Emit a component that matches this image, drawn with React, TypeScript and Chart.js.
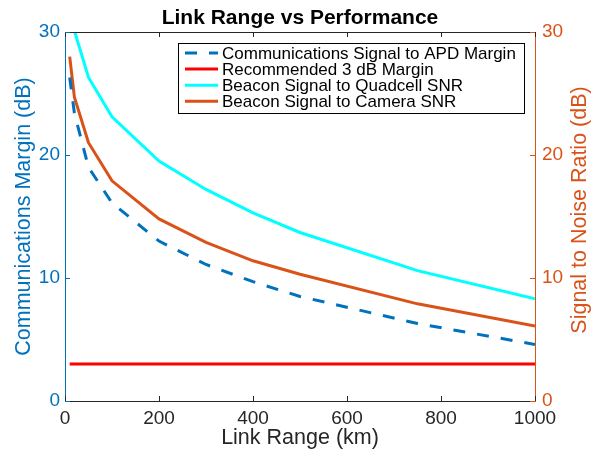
import React, { useEffect, useRef } from "react";
import { Chart, registerables } from "chart.js";

Chart.register(...registerables);

// ---- data ----
const rangeKm = [10, 20, 50, 100, 200, 300, 400, 500, 750, 1000];
const commToApdMargin = [26.3, 23.4, 19.0, 16.1, 13.0, 11.1, 9.7, 8.5, 6.3, 4.6];
const recommendedMargin = [3, 3, 3, 3, 3, 3, 3, 3, 3, 3];
const quadcellSnr = [33.5, 30.1, 26.3, 23.1, 19.5, 17.2, 15.3, 13.7, 10.6, 8.3];
const cameraSnr = [28.0, 24.7, 21.0, 17.9, 14.8, 12.9, 11.4, 10.3, 7.9, 6.1];

const xTicks = [0, 200, 400, 600, 800, 1000];
const yTicks = [0, 10, 20, 30];

const seriesLabels = [
  "Communications Signal to APD Margin",
  "Recommended 3 dB Margin",
  "Beacon Signal to Quadcell SNR",
  "Beacon Signal to Camera SNR",
];
const chartTitle = "Link Range vs Performance";
const xTitle = "Link Range (km)";
const yLeftTitle = "Communications Margin (dB)";
const yRightTitle = "Signal to Noise Ratio (dB)";

const FONT = "'Liberation Sans', Arial, Helvetica, sans-serif";
const BLUE = "#0072BD";
const ORANGE = "#D95319";
const DARK = "#262626";

const toPoints = (ys: number[]) => rangeKm.map((x, i) => ({ x, y: ys[i] }));

const decorPlugin = {
  id: "decor",
  afterDatasetsDraw(chart: any) {
    const { ctx, chartArea, scales } = chart;
    const { left, right, top, bottom } = chartArea;
    ctx.save();
    // top border
    ctx.lineWidth = 1;
    ctx.strokeStyle = DARK;
    ctx.beginPath();
    ctx.moveTo(left, Math.round(top) + 0.5);
    ctx.lineTo(right, Math.round(top) + 0.5);
    ctx.stroke();
    // x ticks (inward, bottom and top)
    const tl = 5;
    for (const v of xTicks) {
      const px = Math.round(scales.x.getPixelForValue(v)) + 0.5;
      ctx.beginPath();
      ctx.moveTo(px, bottom);
      ctx.lineTo(px, bottom - tl);
      ctx.moveTo(px, top);
      ctx.lineTo(px, top + tl);
      ctx.stroke();
    }
    // left y ticks
    ctx.strokeStyle = BLUE;
    for (const v of yTicks) {
      const py = Math.round(scales.y.getPixelForValue(v)) + 0.5;
      ctx.beginPath();
      ctx.moveTo(left, py);
      ctx.lineTo(left + tl, py);
      ctx.stroke();
    }
    // right y ticks
    ctx.strokeStyle = ORANGE;
    for (const v of yTicks) {
      const py = Math.round(scales.y2.getPixelForValue(v)) + 0.5;
      ctx.beginPath();
      ctx.moveTo(right, py);
      ctx.lineTo(right - tl, py);
      ctx.stroke();
    }

    // legend
    const bx = 178.5, by = 43.5, bw = 346, bh = 70;
    ctx.fillStyle = "#ffffff";
    ctx.fillRect(bx, by, bw, bh);
    ctx.strokeStyle = "#000000";
    ctx.lineWidth = 1;
    ctx.setLineDash([]);
    ctx.strokeRect(bx, by, bw, bh);
    ctx.font = `17px ${FONT}`;
    ctx.textBaseline = "alphabetic";
    ctx.textAlign = "left";
    chart.data.datasets.forEach((ds: any, i: number) => {
      const ly = 53 + 16.1 * i;
      ctx.save();
      ctx.strokeStyle = ds.borderColor;
      ctx.lineWidth = ds.borderWidth;
      ctx.setLineDash(ds.borderDash || []);
      ctx.beginPath();
      ctx.moveTo(185, ly);
      ctx.lineTo(218, ly);
      ctx.stroke();
      ctx.restore();
      ctx.fillStyle = "#000000";
      ctx.fillText(ds.label, 222, 59 + 16.1 * i);
    });

    // right axis title (reads bottom-to-top)
    ctx.save();
    ctx.font = `21.5px ${FONT}`;
    ctx.fillStyle = ORANGE;
    ctx.textAlign = "center";
    ctx.textBaseline = "alphabetic";
    ctx.translate(586, 210);
    ctx.rotate(-Math.PI / 2);
    ctx.fillText(yRightTitle, 0, 0);
    ctx.restore();

    // title
    ctx.font = `bold 21px ${FONT}`;
    ctx.fillStyle = "#000000";
    ctx.textAlign = "center";
    ctx.textBaseline = "alphabetic";
    ctx.fillText(chartTitle, (left + right) / 2, 24);
    ctx.restore();
  },
};

export default function App() {
  const canvasRef = useRef<HTMLCanvasElement | null>(null);

  useEffect(() => {
    const canvas = canvasRef.current;
    if (!canvas) return;
    const chart = new Chart(canvas, {
      type: "line",
      data: {
        datasets: [
          {
            label: seriesLabels[0],
            data: toPoints(commToApdMargin),
            borderColor: BLUE,
            borderWidth: 3,
            borderDash: [12, 12],
            pointRadius: 0,
            yAxisID: "y",
            clip: 0,
          },
          {
            label: seriesLabels[1],
            data: toPoints(recommendedMargin),
            borderColor: "#FF0000",
            borderWidth: 3,
            pointRadius: 0,
            yAxisID: "y",
            clip: 0,
          },
          {
            label: seriesLabels[2],
            data: toPoints(quadcellSnr),
            borderColor: "#00FFFF",
            borderWidth: 3,
            pointRadius: 0,
            yAxisID: "y2",
            clip: 0,
          },
          {
            label: seriesLabels[3],
            data: toPoints(cameraSnr),
            borderColor: ORANGE,
            borderWidth: 3,
            pointRadius: 0,
            yAxisID: "y2",
            clip: 0,
          },
        ] as any,
      },
      options: {
        responsive: false,
        animation: false,
        devicePixelRatio: 1,
        events: [],
        layout: { padding: { top: 32, left: 0, right: 0, bottom: 0 } },
        plugins: {
          legend: { display: false },
          tooltip: { enabled: false },
          title: { display: false },
        },
        scales: {
          x: {
            type: "linear",
            position: "bottom",
            min: 0,
            max: 1000,
            ticks: {
              stepSize: 200,
              color: DARK,
              font: { family: FONT, size: 19 },
              padding: 6,
              maxRotation: 0,
              autoSkip: false,
              callback: (v: any) => String(v),
            },
            grid: { display: false, drawTicks: false },
            border: { display: true, color: DARK, width: 1 },
            title: {
              display: true,
              text: xTitle,
              color: DARK,
              font: { family: FONT, size: 21.5 },
              padding: { top: 0, bottom: 2 },
            },
            afterFit: (s: any) => {
              s.height = 52;
            },
          },
          y: {
            type: "linear",
            position: "left",
            min: 0,
            max: 30,
            ticks: {
              stepSize: 10,
              color: BLUE,
              font: { family: FONT, size: 19 },
              padding: 5,
              callback: (v: any) => String(v),
            },
            grid: { display: false, drawTicks: false },
            border: { display: true, color: BLUE, width: 1 },
            title: {
              display: true,
              text: yLeftTitle,
              color: BLUE,
              font: { family: FONT, size: 21.5 },
              padding: { top: 11, bottom: 0 },
            },
            afterFit: (s: any) => {
              s.width = 65;
            },
          },
          y2: {
            type: "linear",
            position: "right",
            min: 0,
            max: 30,
            ticks: {
              stepSize: 10,
              color: ORANGE,
              font: { family: FONT, size: 19 },
              padding: 7,
              callback: (v: any) => String(v),
            },
            grid: { display: false, drawTicks: false },
            border: { display: true, color: ORANGE, width: 1 },
            title: { display: false },
            afterFit: (s: any) => {
              s.width = 57;
            },
          },
        },
      } as any,
      plugins: [decorPlugin],
    });
    return () => chart.destroy();
  }, []);

  return (
    <div style={{ position: "absolute", left: 0, top: 0, width: 592, height: 453, background: "#ffffff" }}>
      <canvas ref={canvasRef} width={592} height={453} />
    </div>
  );
}
